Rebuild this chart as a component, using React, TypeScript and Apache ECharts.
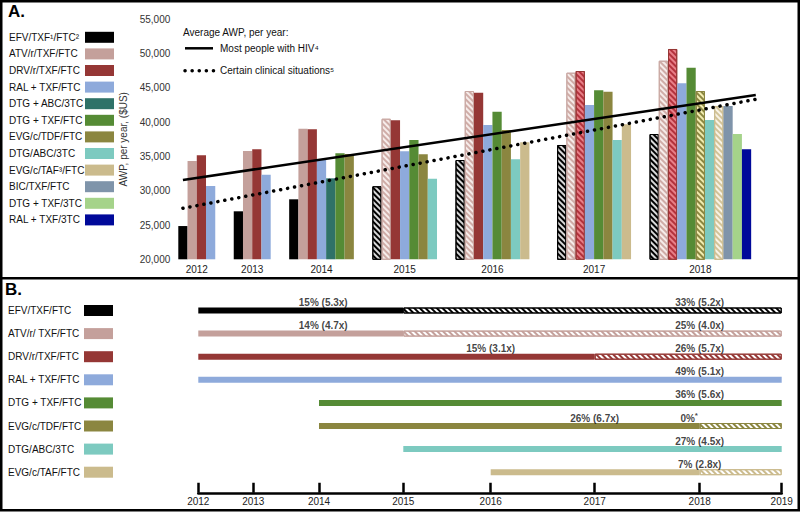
import React, { useEffect, useRef } from 'react';
import * as echarts from 'echarts';

const FONT = '"Liberation Sans", Arial, Helvetica, sans-serif';

// ---------- Panel A data ----------
const regimenNames = [
  'EFV/TXF¹/FTC²', 'ATV/r/TXF/FTC', 'DRV/r/TXF/FTC', 'RAL + TXF/FTC',
  'DTG + ABC/3TC', 'DTG + TXF/FTC', 'EVG/c/TDF/FTC', 'DTG/ABC/3TC',
  'EVG/c/TAF³/FTC', 'BIC/TXF/FTC', 'DTG + TXF/3TC', 'RAL + TXF/3TC',
];
const regimenColors = [
  '#000000', '#c4a09b', '#953735', '#8eaadb', '#2f7268', '#558b35',
  '#8b8640', '#7dcac0', '#cbbb8d', '#7f94aa', '#a5d38a', '#00099a',
];
// hatched (generic-available) style per regimen index
const hatchStyles: Record<number, { bg: string; stripe: string; border: string }> = {
  0: { bg: '#d8d8d8', stripe: '#000000', border: '#000000' },
  1: { bg: '#f6ecea', stripe: '#cfaca7', border: '#c9a8a3' },
  2: { bg: '#e88088', stripe: '#b3323c', border: '#953735' },
  6: { bg: '#f2ecb0', stripe: '#8b8640', border: '#8b8640' },
  8: { bg: '#f8f3e6', stripe: '#d2c398', border: '#cbbb8d' },
};

const years = ['2012', '2013', '2014', '2015', '2016', '2017', '2018'];

const regs2012 = [0, 1, 2, 3];
const awp2012 = [24850, 34340, 35170, 30690];
const hatch2012: number[] = [];

const regs2013 = [0, 1, 2, 3];
const awp2013 = [27000, 35790, 36040, 32340];
const hatch2013: number[] = [];

const regs2014 = [0, 1, 2, 3, 4, 5, 6];
const awp2014 = [28750, 39050, 38960, 34630, 31810, 35460, 35360];
const hatch2014: number[] = [];

const regs2015 = [0, 1, 2, 3, 5, 6, 7];
const awp2015 = [30650, 40500, 40270, 35750, 37400, 35310, 31750];
const hatch2015 = [0, 1];

const regs2016 = [0, 1, 2, 3, 5, 6, 7, 8];
const awp2016 = [34480, 44540, 44300, 39590, 41520, 38860, 34580, 37060];
const hatch2016 = [0, 1];

const regs2017 = [0, 1, 2, 3, 5, 6, 7, 8];
const awp2017 = [36670, 47210, 47460, 42500, 44650, 44440, 37400, 39690];
const hatch2017 = [0, 1, 2];

const regs2018 = [0, 1, 2, 3, 5, 6, 7, 8, 9, 10, 11];
const awp2018 = [38270, 48960, 50670, 45670, 47940, 44540, 40310, 42360, 42360, 38270, 36040];
const hatch2018 = [0, 1, 2, 6, 8];

const groupGaps = [2, 2, 2, 2, 3, 2]; // empty slots between year groups

const trendMost = [31570, 43960]; // first / last slot
const trendCertain = [27440, 43330];

// ---------- Panel B data ----------
const bNames = [
  'EFV/TXF/FTC', 'ATV/r/ TXF/FTC', 'DRV/r/TXF/FTC', 'RAL + TXF/FTC',
  'DTG + TXF/FTC', 'EVG/c/TDF/FTC', 'DTG/ABC/3TC', 'EVG/c/TAF/FTC',
];
const bRegimen = [0, 1, 2, 3, 5, 6, 7, 8];
const bStart = [2012, 2012, 2012, 2012, 2014, 2014, 2015, 2016];
const bSwitch = [2015, 2015, 2017, 2019, 2019, 2018, 2019, 2018];
const bEnd = [2019, 2019, 2019, 2019, 2019, 2019, 2019, 2019];
const bTickYears = [2012, 2013, 2014, 2015, 2016, 2017, 2018, 2019];
const bYearWidths = [55, 65.7, 84.3, 87.4, 104, 105, 82]; // drawn width of each year interval
const bNoteRows = [0, 0, 1, 1, 2, 2, 3, 4, 5, 5, 6, 7];
const bNoteYears = [2014.05, 2018, 2014.05, 2018, 2016, 2018, 2018, 2018, 2017, 2017.9, 2018, 2018];
const bNoteTexts = [
  '15% (5.3x)', '33% (5.2x)', '14% (4.7x)', '25% (4.0x)', '15% (3.1x)', '26% (5.7x)',
  '49% (5.1x)', '36% (5.6x)', '26% (6.7x)', '0%{sup|*}', '27% (4.5x)', '7% (2.8x)',
];

// ---------- helpers ----------
const decal = (stripe: string, dy = [1.3, 1.5]) => ({
  symbol: 'rect',
  symbolSize: 1,
  dashArrayX: [1, 0],
  dashArrayY: dy,
  rotation: Math.PI / 4,
  color: stripe,
});

const yearUnit = (y: number) => {
  let u = 0;
  for (let i = 0; i < bYearWidths.length; i++) {
    const y0 = bTickYears[i];
    if (y >= y0 + 1) u += bYearWidths[i];
    else {
      u += Math.max(0, y - y0) * bYearWidths[i];
      break;
    }
  }
  return u;
};

function buildOption() {
  const groups = [
    [regs2012, awp2012, hatch2012],
    [regs2013, awp2013, hatch2013],
    [regs2014, awp2014, hatch2014],
    [regs2015, awp2015, hatch2015],
    [regs2016, awp2016, hatch2016],
    [regs2017, awp2017, hatch2017],
    [regs2018, awp2018, hatch2018],
  ];
  const slots: any[] = [];
  const centers: number[] = [];
  groups.forEach(([regs, vals, hatch], gi) => {
    const start = slots.length;
    regs.forEach((r, k) => {
      const h = hatch.includes(r) ? hatchStyles[r] : null;
      slots.push({
        value: vals[k],
        itemStyle: h
          ? { color: h.bg, borderColor: h.border, borderWidth: 1, decal: decal(h.stripe) }
          : { color: regimenColors[r] },
      });
    });
    centers.push((start + slots.length - 1) / 2);
    if (gi < groupGaps.length) for (let j = 0; j < groupGaps[gi]; j++) slots.push('-');
  });
  slots.push('-');
  const nSlots = slots.length;
  const last = nSlots - 1;

  // panel B
  const total = yearUnit(2019);
  const tickUnits = bTickYears.map(yearUnit);
  const base = bStart.map(yearUnit);
  const solid = bStart.map((s, i) => ({
    value: yearUnit(bSwitch[i]) - yearUnit(s),
    itemStyle: { color: regimenColors[bRegimen[i]] },
  }));
  const hatchB = bSwitch.map((s, i) => {
    const v = yearUnit(bEnd[i]) - yearUnit(s);
    if (v <= 0) return '-';
    const c = regimenColors[bRegimen[i]];
    return {
      value: v,
      itemStyle: { color: '#ffffff', borderColor: c, borderWidth: 1, decal: decal(c, [1.3, 1.5]) },
    };
  });
  const notes = bNoteTexts.map((t, i) => [yearUnit(bNoteYears[i]), bNoteRows[i], t]);

  const rich: any = {
    t: { width: 76, fontSize: 10, color: '#111', fontFamily: FONT },
  };
  bRegimen.forEach((r, i) => {
    rich['s' + i] = { width: 29, height: 11, backgroundColor: regimenColors[r] };
  });

  // legend graphics for panel A
  const legendEls: any[] = [];
  regimenNames.forEach((n, i) => {
    const y = 37.3 + i * 16.6;
    legendEls.push({
      type: 'text', x: 9, y,
      style: { text: n, fill: '#111', font: `10px ${FONT}`, align: 'left', verticalAlign: 'middle' },
    });
    legendEls.push({
      type: 'rect', shape: { x: 85, y: y - 5.5, width: 29, height: 11 },
      style: { fill: regimenColors[i] },
    });
  });

  const txt = (text: string, x: number, y: number, size = 10, weight = 'normal') => ({
    type: 'text', x, y,
    style: { text, fill: '#111', font: `${weight} ${size}px ${FONT}`, align: 'left', verticalAlign: 'middle' },
  });

  return {
    animation: false,
    backgroundColor: '#ffffff',
    textStyle: { fontFamily: FONT },
    grid: [
      { left: 178.3, top: 19.3, width: 582.1, height: 240 },
      { left: 198.3, top: 298.95, width: total, height: 184.8 },
    ],
    xAxis: [
      {
        type: 'category', gridIndex: 0, show: false,
        data: slots.map((_, i) => String(i)), boundaryGap: true,
      },
      {
        type: 'value', gridIndex: 0, position: 'bottom', min: -0.5, max: last + 0.5,
        axisLine: { show: false }, axisTick: { show: false }, splitLine: { show: false },
        axisLabel: {
          customValues: centers,
          margin: 5,
          fontSize: 10, color: '#222', fontFamily: FONT,
          formatter: (v: number) => {
            const k = centers.findIndex((c) => Math.abs(c - v) < 0.01);
            return k >= 0 ? years[k] : '';
          },
        },
      },
      {
        type: 'value', gridIndex: 1, min: 0, max: total, offset: 9,
        axisLine: { show: true, lineStyle: { color: '#000', width: 2.5 } },
        axisTick: { show: true, inside: true, length: 10, customValues: tickUnits, lineStyle: { color: '#000', width: 2.5 } },
        splitLine: { show: false },
        axisLabel: {
          customValues: tickUnits, margin: 4,
          fontSize: 10, color: '#222', fontFamily: FONT,
          formatter: (v: number) => {
            const k = tickUnits.findIndex((c) => Math.abs(c - v) < 0.01);
            return k >= 0 ? String(bTickYears[k]) : '';
          },
        },
      },
    ],
    yAxis: [
      {
        type: 'value', gridIndex: 0, min: 20000, max: 55000, interval: 5000,
        axisLine: { show: false }, axisTick: { show: false }, splitLine: { show: false },
        axisLabel: {
          fontSize: 10, color: '#333', fontFamily: FONT, margin: 8,
          formatter: (v: number) => v.toLocaleString('en-US'),
        },
        name: 'AWP, per year, ($US)', nameLocation: 'middle', nameGap: 43,
        nameTextStyle: { fontSize: 10, color: '#333', fontFamily: FONT },
      },
      {
        type: 'category', gridIndex: 1, inverse: true, data: bNames,
        axisLine: { show: false }, axisTick: { show: false }, splitLine: { show: false },
        axisLabel: {
          align: 'left', margin: 190.3,
          formatter: (v: string, i: number) => `{t|${v}}{s${i}|}`,
          rich,
        },
      },
    ],
    series: [
      {
        type: 'bar', xAxisIndex: 0, yAxisIndex: 0, data: slots,
        barCategoryGap: '0%', barGap: '0%',
      },
      {
        type: 'line', xAxisIndex: 1, yAxisIndex: 0, symbol: 'none',
        lineStyle: { color: '#000', width: 2.5 },
        data: [
          [0, trendMost[0]],
          {
            value: [last, trendMost[1]],
            label: {
              show: true, position: 'top', offset: [10, -1], formatter: '34% (3.5x)',
              fontSize: 10, fontWeight: 'bold', color: '#111', fontFamily: FONT,
            },
          },
        ],
      },
      {
        type: 'line', xAxisIndex: 1, yAxisIndex: 0, symbol: 'none',
        lineStyle: { color: '#000', width: 3.5, type: [0.1, 7], cap: 'round' },
        data: [
          [0, trendCertain[0]],
          {
            value: [last, trendCertain[1]],
            label: {
              show: true, position: 'bottom', offset: [10, 2], formatter: '53% (5.6x)',
              fontSize: 10, fontWeight: 'bold', color: '#111', fontFamily: FONT,
            },
          },
        ],
      },
      {
        type: 'bar', xAxisIndex: 2, yAxisIndex: 1, stack: 'tl', barWidth: 6,
        itemStyle: { color: 'rgba(0,0,0,0)' }, data: base, silent: true,
      },
      {
        type: 'bar', xAxisIndex: 2, yAxisIndex: 1, stack: 'tl', barWidth: 6, data: solid,
      },
      {
        type: 'bar', xAxisIndex: 2, yAxisIndex: 1, stack: 'tl', barWidth: 6, data: hatchB,
      },
      {
        type: 'scatter', xAxisIndex: 2, yAxisIndex: 1, symbolSize: 1,
        itemStyle: { color: 'rgba(0,0,0,0)' },
        data: notes,
        label: {
          show: true, position: 'inside', offset: [0, -8],
          formatter: (p: any) => p.data[2],
          fontSize: 10, fontWeight: 'bold', color: '#111', fontFamily: FONT,
          rich: { sup: { fontSize: 8, fontWeight: 'bold', color: '#111', padding: [0, 0, 5, 0] } },
        },
      },
    ],
    graphic: [
      {
        type: 'rect', shape: { x: 1.25, y: 1.25, width: 797.5, height: 509 },
        style: { fill: 'none', stroke: '#000', lineWidth: 2.5 },
      },
      {
        type: 'line', shape: { x1: 0, y1: 278.3, x2: 800, y2: 278.3 },
        style: { stroke: '#000', lineWidth: 2.5 },
      },
      {
        type: 'text', x: 8, y: 3,
        style: { text: 'A.', fill: '#000', font: `bold 17px ${FONT}`, align: 'left', verticalAlign: 'top' },
      },
      {
        type: 'text', x: 5, y: 281,
        style: { text: 'B.', fill: '#000', font: `bold 17px ${FONT}`, align: 'left', verticalAlign: 'top' },
      },
      ...legendEls,
      txt('Average AWP, per year:', 183, 32.3, 10),
      {
        type: 'line', shape: { x1: 185, y1: 48.3, x2: 213, y2: 48.3 },
        style: { stroke: '#000', lineWidth: 2.5 },
      },
      txt('Most people with HIV⁴', 220, 48.3, 10),
      {
        type: 'line', shape: { x1: 185, y1: 70.7, x2: 214, y2: 70.7 },
        style: { stroke: '#000', lineWidth: 3.5, lineDash: [0.1, 7], lineCap: 'round' },
      },
      txt('Certain clinical situations⁵', 220, 70.7, 10),
    ],
  };
}

export default function App() {
  const ref = useRef<HTMLDivElement>(null);
  useEffect(() => {
    const chart = echarts.init(ref.current!, null, { renderer: 'svg' });
    chart.setOption(buildOption() as any);
    return () => chart.dispose();
  }, []);
  return (
    <div
      ref={ref}
      style={{ position: 'absolute', left: 0, top: 0, width: 800, height: 512, background: '#fff' }}
    />
  );
}
